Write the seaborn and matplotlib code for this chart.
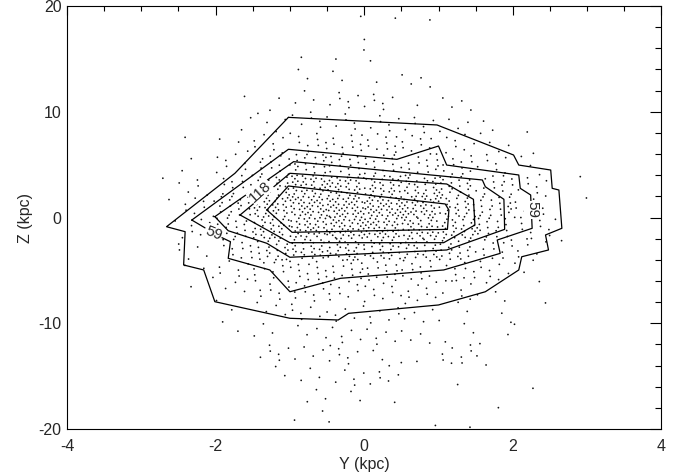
import numpy as np
import pandas as pd
import matplotlib
matplotlib.use("Agg")
import matplotlib.pyplot as plt
from matplotlib.ticker import MultipleLocator
import seaborn as sns

sns.set_style("white")
plt.rcParams["font.family"] = ["Liberation Sans", "DejaVu Sans"]
plt.rcParams["font.size"] = 11.5
plt.rcParams["axes.unicode_minus"] = False

# ---- star counts per cell -------------------------------------------------
# columns: Y bins of 0.5 kpc from -3 to 3; rows: Z bins of 2 kpc from +20 (top) to -20
y_edges = np.arange(-3.0, 3.01, 0.5)
z_top_edges = np.arange(20.0, -19.99, -2.0)
cell_counts = [
    [0, 0, 0, 0, 0, 1, 1, 1, 0, 0, 0, 0],      # 18..20
    [0, 0, 0, 0, 0, 0, 1, 0, 0, 0, 0, 0],      # 16..18
    [0, 0, 0, 0, 1, 2, 1, 0, 0, 0, 0, 0],      # 14..16
    [0, 0, 0, 0, 2, 2, 1, 4, 0, 0, 0, 0],      # 12..14
    [0, 0, 1, 2, 3, 6, 6, 1, 4, 0, 0, 0],      # 10..12
    [0, 0, 2, 4, 6, 6, 6, 6, 4, 2, 1, 0],      # 8..10
    [0, 1, 3, 7, 10, 10, 10, 9, 7, 4, 1, 0],   # 6..8
    [0, 2, 7, 13, 18, 16, 14, 13, 11, 7, 3, 0],  # 4..6
    [1, 5, 12, 24, 34, 34, 31, 26, 21, 14, 7, 1],  # 2..4
    [1, 8, 18, 34, 42, 44, 43, 38, 27, 18, 9, 1],  # 0..2
    [1, 7, 15, 30, 38, 40, 40, 36, 27, 18, 9, 1],  # -2..0
    [0, 5, 11, 19, 26, 27, 26, 24, 19, 12, 6, 1],  # -4..-2
    [0, 3, 7, 11, 14, 14, 13, 12, 10, 7, 3, 0],  # -6..-4
    [0, 1, 4, 8, 9, 9, 9, 8, 6, 4, 1, 0],      # -8..-6
    [0, 0, 2, 4, 6, 6, 6, 5, 3, 2, 1, 0],      # -10..-8
    [0, 0, 1, 3, 4, 5, 5, 4, 3, 2, 1, 0],      # -12..-10
    [0, 0, 0, 6, 4, 7, 3, 1, 8, 2, 0, 0],      # -14..-12
    [0, 0, 0, 2, 3, 5, 6, 0, 1, 0, 0, 0],      # -16..-14
    [0, 0, 0, 0, 3, 2, 1, 0, 0, 1, 1, 0],      # -18..-16
    [0, 0, 0, 0, 2, 1, 0, 1, 1, 0, 0, 0],      # -20..-18
]

# ---- density contours (kpc) -------------------------------------------------
c1_y = [-1.02, 0.98, 2.01, 2.08, 2.51, 2.53, 2.62, 2.66, 2.44, 2.48, 2.12, 2.08, 1.63, 1.00,
        -0.21, -0.35, -1.00, -2.01, -2.16, -2.43, -2.41, -2.66, -1.74, -1.02]
c1_z = [9.47, 8.75, 5.91, 4.96, 4.49, 2.76, 2.60, -1.02, -1.65, -3.07, -3.71, -4.96, -7.02, -8.27,
        -9.06, -9.69, -9.53, -7.96, -4.96, -4.49, -1.34, -0.87, 4.18, 9.47]
c2_y = [-2.32, -1.02, 0.44, 1.00, 1.11, 2.08, 2.10, 2.24, 2.26, 1.79, 1.83, 1.07, -0.32, -1.00,
        -1.27, -1.83, -1.80, -1.94, -2.32]
c2_z = [-0.24, 6.45, 5.50, 6.76, 4.96, 4.02, 2.76, 2.13, -1.02, -2.13, -3.39, -4.96, -5.75, -7.02,
        -4.96, -3.86, -2.29, -1.82, -0.24]
c3_y = [-2.01, -0.95, 1.59, 1.63, 1.88, 1.89, 1.11, -1.00, -1.31, -1.83, -2.01]
c3_z = [0.08, 5.28, 3.55, 2.91, 1.72, -1.12, -3.07, -3.76, -2.44, -1.25, 0.08]
c4_y = [-1.67, -1.00, 1.11, 1.47, 1.49, 1.07, -1.00, -1.67]
c4_z = [0.24, 4.18, 3.17, 1.72, -0.71, -2.38, -2.38, 0.24]
c5_y = [-1.31, -1.02, 1.09, 1.14, 1.12, -0.97, -1.31]
c5_z = [0.71, 2.98, 1.28, 0.71, -1.12, -1.40, 0.71]

# contour labels: text, Y, Z, rotation
label_text = ["59", "59", "118"]
label_y = [-2.03, 2.26, -1.40]
label_z = [-1.47, 0.71, 2.46]
label_rot = [-22, -90, 42]

# ---- build point table ------------------------------------------------------
a1, a2 = 0.7548776662466927, 0.5698402909980532
pts_y, pts_z = [], []
for r, row in enumerate(cell_counts):
    for c, n in enumerate(row):
        for i in range(n):
            k = i + 1 + 37 * (r * len(row) + c)
            pts_y.append(y_edges[c] + 0.5 * ((0.5 + k * a1) % 1.0))
            pts_z.append(z_top_edges[r] - 2.0 * ((0.5 + k * a2) % 1.0))
stars = pd.DataFrame({"Y": pts_y, "Z": pts_z})

# ---- figure -----------------------------------------------------------------
fig = plt.figure(figsize=(6.89, 4.76), dpi=100)
ax = fig.add_axes([0.0972, 0.0987, 0.8628, 0.8887])

sns.scatterplot(data=stars, x="Y", y="Z", ax=ax, s=1.6, marker="o",
                color="#141414", linewidth=0, edgecolor="none", zorder=2)

for cy, cz in [(c1_y, c1_z), (c2_y, c2_z), (c3_y, c3_z), (c4_y, c4_z), (c5_y, c5_z)]:
    ax.plot(cy, cz, color="black", lw=0.9, zorder=3)

for t, ly, lz, rot in zip(label_text, label_y, label_z, label_rot):
    ax.text(ly, lz, t, rotation=rot, ha="center", va="center", fontsize=11,
            rotation_mode="anchor", zorder=4,
            bbox=dict(boxstyle="square,pad=0.05", fc="white", ec="none"))

ax.set_xlim(-4, 4)
ax.set_ylim(-20, 20)
ax.xaxis.set_major_locator(MultipleLocator(2))
ax.xaxis.set_minor_locator(MultipleLocator(0.5))
ax.yaxis.set_major_locator(MultipleLocator(10))
ax.yaxis.set_minor_locator(MultipleLocator(2))
ax.tick_params(which="both", direction="in", top=True, right=True,
               color="black", width=0.8, labelsize=11.5)
ax.xaxis.set_tick_params(which="major", length=6.3, pad=7)
ax.xaxis.set_tick_params(which="minor", length=3.3)
ax.yaxis.set_tick_params(which="major", length=8.2, pad=4)
ax.yaxis.set_tick_params(which="minor", length=4.1)
for s in ax.spines.values():
    s.set_color("black")
    s.set_linewidth(0.8)

ax.set_xlabel("Y (kpc)", labelpad=2.5)
ax.set_ylabel("Z (kpc)", labelpad=4)

fig.savefig("out.png", dpi=100, facecolor="white")
